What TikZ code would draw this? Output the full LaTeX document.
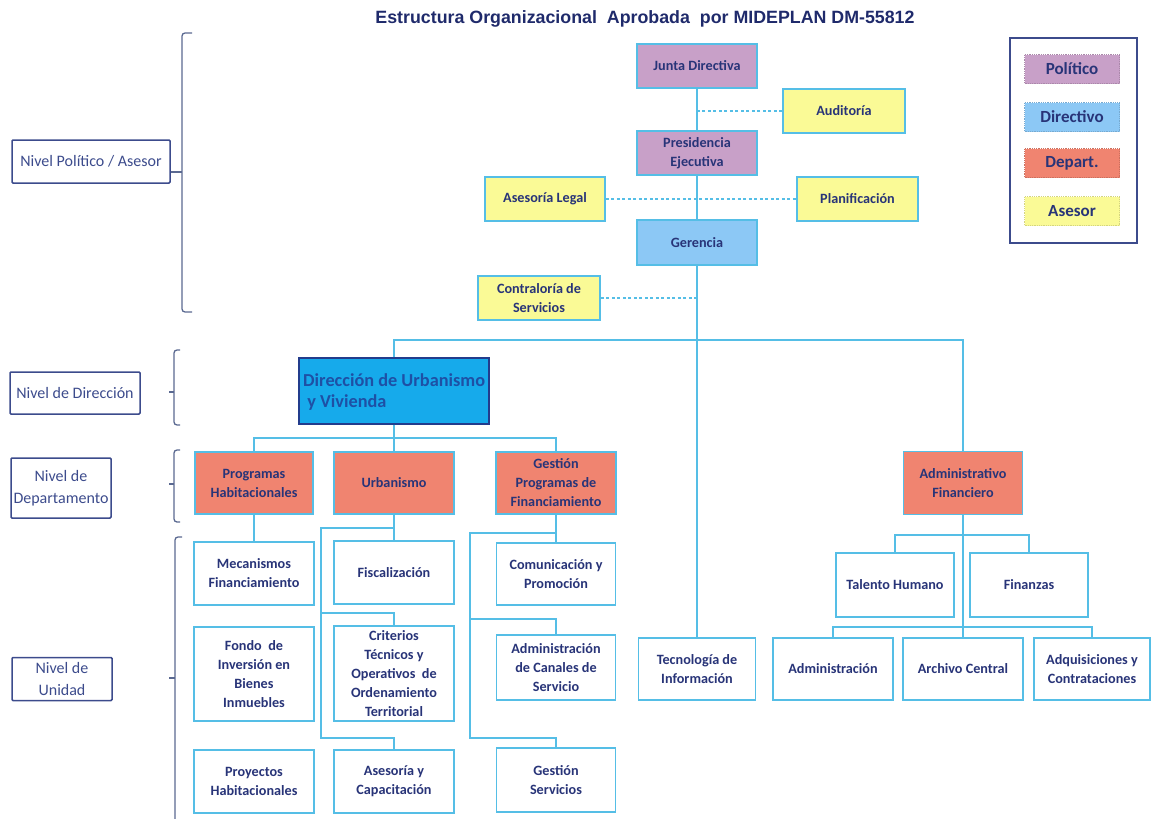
\documentclass[tikz,border=0pt]{standalone}
\usepackage{fontspec}
\setmainfont{Carlito}
\newfontfamily\titlefont{Liberation Sans}
\definecolor{navy}{RGB}{40,52,120}
\definecolor{lineblue}{RGB}{85,190,230}
\definecolor{polfill}{RGB}{200,160,200}
\definecolor{dirfill}{RGB}{140,200,245}
\definecolor{depfill}{RGB}{240,132,112}
\definecolor{asefill}{RGB}{250,250,150}
\definecolor{dufill}{RGB}{22,170,235}
\definecolor{dutext}{RGB}{30,80,165}
\definecolor{dubord}{RGB}{35,60,140}
\definecolor{brkcol}{RGB}{90,105,145}
\definecolor{lblcol}{RGB}{60,75,140}
\definecolor{titcol}{RGB}{31,42,107}
\begin{document}
\begin{tikzpicture}[x=1pt,y=-1pt,
  box/.style={draw=lineblue, line width=1.8pt, fill=white, inner sep=1pt, align=center,
    text=navy, font=\fontsize{14.2}{19}\selectfont\bfseries, minimum width=120pt, minimum height=63pt},
  polbox/.style={box, fill=polfill, minimum height=44pt},
  asebox/.style={box, fill=asefill, minimum height=44pt, minimum width=121pt},
  dirbox/.style={box, fill=dirfill, minimum height=45pt},
  depbox/.style={box, fill=depfill, minimum height=62pt},
  conn/.style={draw=lineblue, line width=1.8pt},
  dotconn/.style={draw=lineblue, line width=1.8pt, dash pattern=on 3pt off 2.5pt},
  lvl/.style={draw=lblcol, line width=1.5pt, rounded corners=1pt, text=lblcol, align=center,
    font=\fontsize{16}{22}\selectfont, inner sep=1pt},
  brk/.style={draw=brkcol, line width=1.3pt, rounded corners=3pt},
  legitem/.style={fill=#1, draw=#1!85!black, densely dotted, line width=0.8pt, minimum width=95pt,
    minimum height=29pt, text=navy, font=\fontsize{17}{18}\selectfont\bfseries, inner sep=0pt}
]
\useasboundingbox (0,0) rectangle (1152,819);

% title
\node[text=titcol, font=\titlefont\fontsize{17.8}{20}\selectfont\bfseries] (title) at (645,19)
  {Estructura Organizacional\ \ Aprobada\ \ por MIDEPLAN DM-55812};

% legend
\node[draw=lblcol, line width=1.8pt, minimum width=127pt, minimum height=205pt, inner sep=0pt] (legend) at (1073.5,140.5) {};
\node[legitem=polfill] (lpol) at (1072,69) {Político};
\node[legitem=dirfill] (ldir) at (1072,117) {Directivo};
\node[legitem=depfill] (ldep) at (1072,163) {Depart.};
\node[legitem=asefill] (lase) at (1072,211) {Asesor};

% level labels
\node[lvl, minimum width=158pt, minimum height=43pt] (nivpol) at (91,161.5) {Nivel Político / Asesor};
\node[lvl, minimum width=130pt, minimum height=42pt] (nivdir) at (75,393) {Nivel de Dirección};
\node[lvl, minimum width=100pt, minimum height=60pt] (nivdep) at (61,488) {Nivel de\\Departamento};
\node[lvl, minimum width=100pt, minimum height=43pt] (nivuni) at (62,679) {Nivel de\\Unidad};

% brackets
\draw[brk] (192,33) -- (182,33) -- (182,312) -- (192,312);
\draw[brk, rounded corners=0pt] (182,172) -- (nivpol.east |- 0,172);
\draw[brk] (180,350) -- (174,350) -- (174,425) -- (180,425);
\draw[brk, rounded corners=0pt] (174,392) -- (169,392);
\draw[brk] (180,450) -- (174,450) -- (174,522) -- (180,522);
\draw[brk, rounded corners=0pt] (174,484) -- (169,484);
\draw[brk] (182,537) -- (175,537) -- (175,830);
\draw[brk, rounded corners=0pt] (175,678) -- (169,678);

% top level
\node[polbox] (jd) at (697,66) {Junta Directiva};
\node[asebox, minimum width=122pt] (aud) at (844,111) {Auditoría};
\node[polbox] (pe) at (697,153) {Presidencia\\Ejecutiva};
\node[asebox, minimum width=120pt] (al) at (545,199) {Asesoría Legal};
\node[asebox] (pl) at (857.5,199) {Planificación};
\node[dirbox] (ger) at (697,242.5) {Gerencia};
\node[asebox, minimum width=122pt] (cs) at (539,298) {Contraloría de\\Servicios};

% direction
\node[draw=dubord, line width=1.2pt, fill=dufill, minimum width=190pt, minimum height=66pt,
  inner sep=0pt] (dir) at (394,391) {};
\node[anchor=west, text=dutext, font=\fontsize{18.3}{21}\selectfont\bfseries, align=left, inner sep=0pt] (dirtxt) at (303,392)
  {Dirección de Urbanismo\\\ y Vivienda};

% departments
\node[depbox, minimum width=118pt] (ph) at (254,483) {Programas\\Habitacionales};
\node[depbox] (urb) at (394,483) {Urbanismo};
\node[depbox] (gp) at (556,483) {Gestión\\Programas de\\Financiamiento};
\node[depbox, minimum width=119pt, minimum height=63pt] (af) at (963,483) {Administrativo\\Financiero};

% units column 1
\node[box] (mec) at (254,573.5) {Mecanismos\\Financiamiento};
\node[box, minimum height=94pt] (fon) at (254,674) {Fondo\ \ de\\Inversión en\\Bienes\\Inmuebles};
\node[box] (pro) at (254,781.5) {Proyectos\\Habitacionales};

% units column 2
\node[box] (fis) at (394,572.5) {Fiscalización};
\node[box, minimum height=95pt] (cri) at (394,673.5) {Criterios\\Técnicos y\\Operativos\ \ de\\Ordenamiento\\Territorial};
\node[box] (ase) at (394,781.5) {Asesoría y\\Capacitación};

% units column 3
\node[box, minimum width=119pt, minimum height=62pt] (com) at (556,574) {Comunicación y\\Promoción};
\node[box, minimum width=119pt, minimum height=65pt] (can) at (556,667.5) {Administración\\de Canales de\\Servicio};
\node[box, minimum width=119pt, minimum height=64pt] (gs) at (556,780) {Gestión\\Servicios};

% technology
\node[box, minimum width=117pt, minimum height=62pt] (tec) at (697,669) {Tecnología de\\Información};

% admin financiero units
\node[box, minimum width=118pt, minimum height=64pt] (th) at (895,585) {Talento Humano};
\node[box, minimum width=118pt, minimum height=64pt] (fin) at (1029,585) {Finanzas};
\node[box, minimum height=62pt] (adm) at (833,669) {Administración};
\node[box, minimum height=62pt] (arc) at (963,669) {Archivo Central};
\node[box, minimum width=116pt, minimum height=62pt] (adq) at (1092,669) {Adquisiciones y\\Contrataciones};

% main trunk
\coordinate (bus) at (697,340);
\draw[conn] (jd.south) -- (pe.north);
\draw[conn] (pe.south) -- (ger.north);
\draw[conn] (ger.south) -- (tec.north);
\draw[conn] (dir.north) |- (bus) -| (af.north);

% dotted advisory links
\draw[dotconn] (aud.west) -- (aud.west -| jd.south);
\draw[dotconn] (al.east) -- (pl.west);
\draw[dotconn] (cs.east) -- (cs.east -| ger.south);

% direction to departments
\coordinate (dbus) at (394,438);
\draw[conn] (dir.south) -- (urb.north);
\draw[conn] (ph.north) |- (dbus) -| (gp.north);

% column 1
\draw[conn] (ph.south) -- (mec.north);

% column 2
\coordinate (uA) at (321,528);
\coordinate (uB) at (321,613);
\coordinate (uC) at (321,738);
\draw[conn] (urb.south) -- (fis.north);
\draw[conn] (uA -| urb.south) -- (uA) -- (uC) -| (ase.north);
\draw[conn] (uB) -| (cri.north);

% column 3
\coordinate (gA) at (470,533);
\coordinate (gB) at (470,619);
\coordinate (gC) at (470,738);
\draw[conn] (gp.south) -- (com.north);
\draw[conn] (gA -| gp.south) -- (gA) -- (gC) -| (gs.north);
\draw[conn] (gB) -| (can.north);

% admin financiero
\coordinate (aA) at (963,535);
\coordinate (aB) at (963,627);
\draw[conn] (af.south) -- (arc.north);
\draw[conn] (th.north) |- (aA) -| (fin.north);
\draw[conn] (adm.north) |- (aB) -| (adq.north);
\end{tikzpicture}
\end{document}
